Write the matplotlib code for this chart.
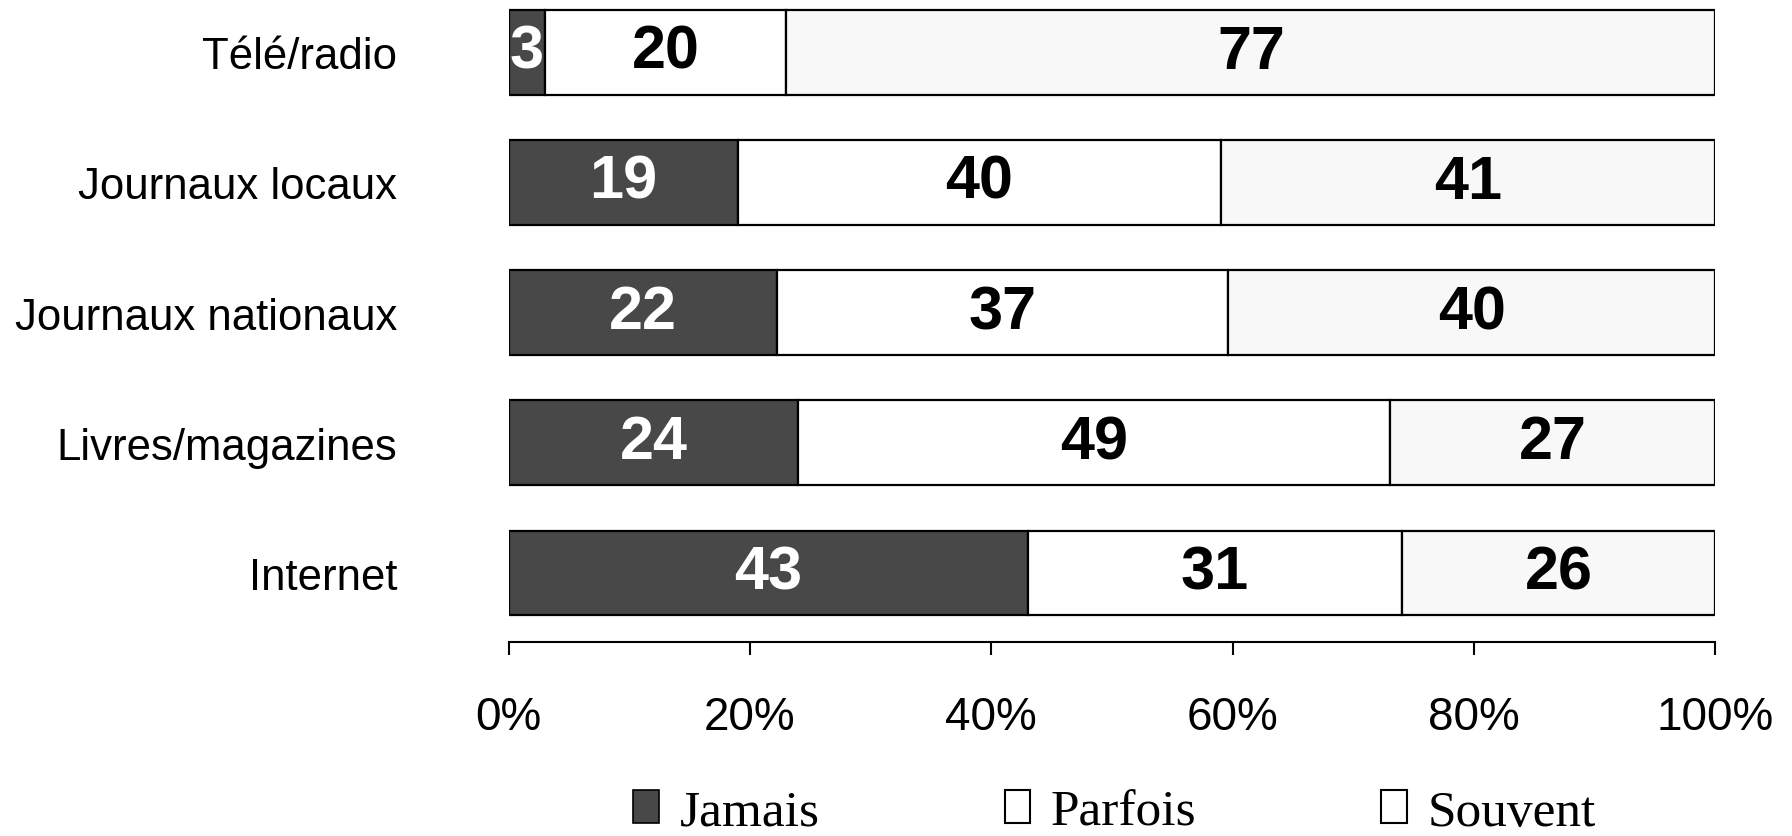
import matplotlib.pyplot as plt
from matplotlib.patches import Patch
import numpy as np

# Data
categories = ['Télé/radio', 'Journaux locaux', 'Journaux nationaux', 'Livres/magazines', 'Internet']
jamais = [3, 19, 22, 24, 43]
parfois = [20, 40, 37, 49, 31]
souvent = [77, 41, 40, 27, 26]
series_names = ['Jamais', 'Parfois', 'Souvent']
tick_labels = ['0%', '20%', '40%', '60%', '80%', '100%']

colors = ['#484848', 'white', '#f8f8f8']
text_colors = ['white', 'black', 'black']

fig = plt.figure(figsize=(17.92, 8.37), dpi=100)
ax = fig.add_axes([0.2838, 0.232, 0.6735, 0.768])

data = np.array([jamais, parfois, souvent], dtype=float)
totals = data.sum(axis=0)
pct = data / totals * 100
y = np.arange(len(categories))
left = np.zeros(len(categories))

for i, name in enumerate(series_names):
    bars = ax.barh(y, pct[i], left=left, height=0.65, color=colors[i],
                   edgecolor='black', linewidth=1.6, label=name)
    for j, b in enumerate(bars):
        ax.text(left[j] + pct[i][j] / 2, y[j], str(int(data[i][j])),
                ha='center', va='center', fontsize=44, fontweight='bold',
                color=text_colors[i], family='Liberation Sans')
    left += pct[i]

ax.set_xlim(0, 100)
ax.set_ylim(4.53, -0.41)
ax.set_yticks(y)
ax.set_yticklabels(categories, fontsize=31.5, family='Liberation Sans')
ax.tick_params(axis='y', length=0, pad=80)
ax.set_xticks(np.arange(0, 101, 20))
ax.set_xticklabels(tick_labels, fontsize=33, family='Liberation Sans')
ax.tick_params(axis='x', direction='out', length=9, width=1.5, pad=29)
for s in ['left', 'top', 'right']:
    ax.spines[s].set_visible(False)
ax.spines['bottom'].set_linewidth(1.5)

handles = [Patch(facecolor=colors[0], edgecolor='black', linewidth=1.2),
           Patch(facecolor='white', edgecolor='black', linewidth=1.5),
           Patch(facecolor='white', edgecolor='black', linewidth=1.5)]
fig.legend(handles, series_names, loc='center', bbox_to_anchor=(0.622, 0.028),
           ncol=3, frameon=False, prop={'family': 'Liberation Serif', 'size': 37},
           handlelength=0.5, handleheight=0.6, handletextpad=0.4, columnspacing=3.6,
           borderpad=0)

fig.savefig('out.png', dpi=100)
